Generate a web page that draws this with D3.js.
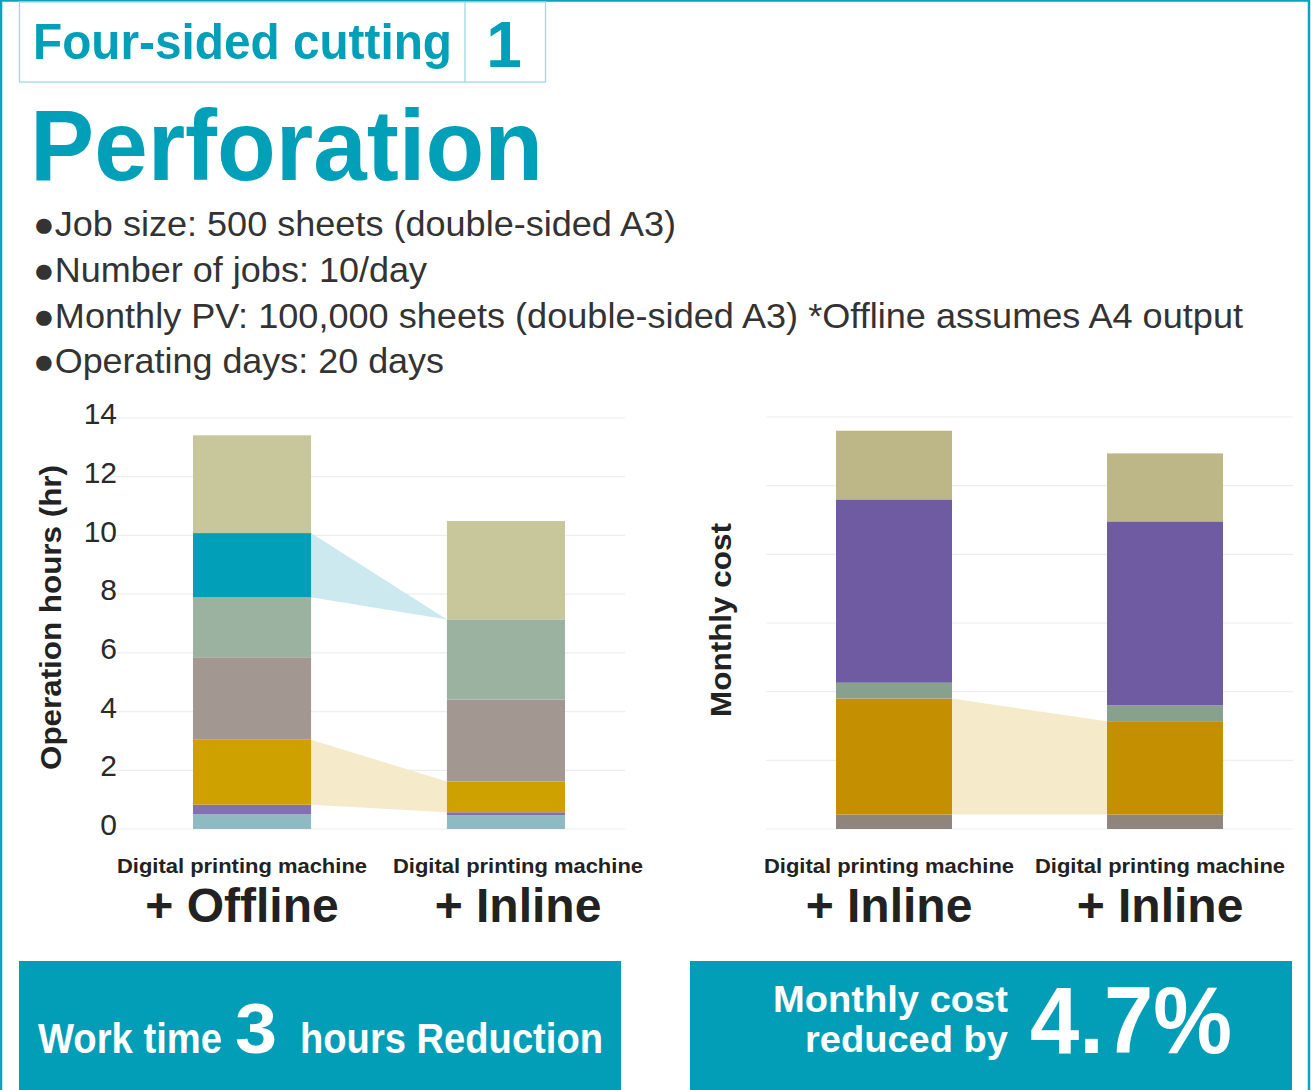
<!DOCTYPE html>
<html>
<head>
<meta charset="utf-8">
<script src="https://cdn.jsdelivr.net/npm/d3@7"></script>
<style>
  html, body { margin: 0; padding: 0; background: #fff; }
  svg { display: block; }
  text { font-family: "Liberation Sans", Arial, sans-serif; }
</style>
</head>
<body>
<svg id="chart" width="1311" height="1090"></svg>
<script>
// ---------------- DATA ----------------
const headerLabel = "Four-sided cutting";
const headerNumber = "1";
const title = "Perforation";
const bullets = [
  "●Job size: 500 sheets (double-sided A3)",
  "●Number of jobs: 10/day",
  "●Monthly PV: 100,000 sheets (double-sided A3) *Offline assumes A4 output",
  "●Operating days: 20 days"
];

// Left chart: operation hours (stack order bottom -> top)
const hourCategories = ["Offline", "Inline"];
const hourCategoryLabels = ["+ Offline", "+ Inline"];
const hourSegments = ["segA", "segB", "segC", "segD", "segE", "segF", "segG"];
const hourColors = ["#8fbac2", "#8370b0", "#cfa100", "#a29791", "#9bb2a1", "#019fb8", "#c8c69b"];
const hoursOffline = [0.50, 0.33, 2.21, 2.81, 2.04, 2.19, 3.33];
const hoursInline  = [0.47, 0.10, 1.05, 2.79, 2.73, 0.00, 3.35];
const hourTicks = [0, 2, 4, 6, 8, 10, 12, 14];
const hourBands = [ { seg: "segF", color: "#cbe9ef" }, { seg: "segC", color: "#f5ebcb" } ];

// Right chart: monthly cost (stack order bottom -> top), no tick labels
const costCategories = ["A", "B"];
const costCategoryLabels = ["+ Inline", "+ Inline"];
const costSegments = ["segP", "segQ", "segR", "segS", "segT"];
const costColors = ["#8f857c", "#c48f00", "#88a18f", "#6e5ba1", "#bdb788"];
const costA = [0.21, 1.69, 0.23, 2.67, 1.00];
const costB = [0.21, 1.36, 0.23, 2.68, 0.99];
const costTicks = [0, 1, 2, 3, 4, 5, 6];
const costBands = [ { seg: "segQ", color: "#f5ebcb" } ];

const machineLabel = "Digital printing machine";
const yTitleLeft = "Operation hours (hr)";
const yTitleRight = "Monthly cost";

// ---------------- DRAW ----------------
const svg = d3.select("#chart");
const TEAL = "#019fb8";

// outer border
svg.append("rect").attr("x", 1).attr("y", 0.5).attr("width", 1308).attr("height", 1095)
  .attr("fill", "none").attr("stroke", "#08a4bc").attr("stroke-width", 2.5);

// header box
svg.append("rect").attr("x", 19.5).attr("y", 2).attr("width", 526).attr("height", 80)
  .attr("fill", "none").attr("stroke", "#9bd9e5").attr("stroke-width", 1.3);
svg.append("line").attr("x1", 465).attr("x2", 465).attr("y1", 2).attr("y2", 82)
  .attr("stroke", "#9bd9e5").attr("stroke-width", 1.3);
svg.append("text").attr("x", 33).attr("y", 59).attr("fill", TEAL)
  .attr("font-size", 50).attr("font-weight", "bold")
  .attr("textLength", 419).attr("lengthAdjust", "spacingAndGlyphs").text(headerLabel);
svg.append("text").attr("x", 504).attr("y", 67).attr("text-anchor", "middle").attr("fill", TEAL)
  .attr("font-size", 64).attr("font-weight", "bold").text(headerNumber);

// title
svg.append("text").attr("x", 30).attr("y", 180).attr("fill", TEAL)
  .attr("font-size", 100).attr("font-weight", "bold")
  .attr("textLength", 513).attr("lengthAdjust", "spacingAndGlyphs").text(title);

// bullets
const bulletWidths = [643, 394, 1210, 411];
const bulletBase = [236, 282, 328, 373];
bullets.forEach((b, i) => {
  svg.append("text").attr("x", 33).attr("y", bulletBase[i]).attr("fill", "#333")
    .attr("font-size", 35)
    .attr("textLength", bulletWidths[i]).attr("lengthAdjust", "spacingAndGlyphs").text(b);
});

function drawChart(opt) {
  const g = svg.append("g");
  const y = d3.scaleLinear().domain(opt.domain).range([829, opt.top]);
  const x = d3.scaleBand().domain(opt.cats).range(opt.xRange).paddingInner(opt.pi).paddingOuter(0.3);
  const lx = d3.scalePoint().domain(opt.cats).range(opt.labelRange);

  // gridlines
  g.append("g").selectAll("line").data(opt.ticks).join("line")
    .attr("x1", opt.gridX[0]).attr("x2", opt.gridX[1])
    .attr("y1", d => y(d)).attr("y2", d => y(d))
    .attr("stroke", "#eeeeee").attr("stroke-width", 1.2);

  // stack
  const rows = opt.cats.map((c, ci) => {
    const r = { cat: c };
    opt.segs.forEach((s, si) => r[s] = opt.values[ci][si]);
    return r;
  });
  const stacked = d3.stack().keys(opt.segs)(rows);

  // connector bands
  opt.bands.forEach(b => {
    const layer = stacked.find(l => l.key === b.seg);
    const x1 = x(opt.cats[0]) + x.bandwidth();
    const x2 = x(opt.cats[1]);
    const pts = [
      [x1, y(layer[0][1])], [x2, y(layer[1][1])],
      [x2, y(layer[1][0])], [x1, y(layer[0][0])]
    ];
    g.append("path").attr("d", d3.line()(pts) + "Z").attr("fill", b.color);
  });

  // bars
  stacked.forEach((layer, li) => {
    g.append("g").selectAll("rect").data(layer).join("rect")
      .attr("x", d => x(d.data.cat))
      .attr("width", x.bandwidth())
      .attr("y", d => y(d[1]))
      .attr("height", d => y(d[0]) - y(d[1]))
      .attr("fill", opt.colors[li]);
  });

  // y tick labels
  if (opt.showTickLabels) {
    const axis = d3.axisLeft(y).tickValues(opt.ticks).tickSize(0).tickPadding(0);
    const ag = g.append("g").attr("transform", "translate(117,-4)").call(axis);
    ag.select(".domain").remove();
    ag.selectAll("text").attr("font-family", "'Lato Light', 'Open Sans Light', Lato, 'Open Sans', sans-serif")
      .attr("font-weight", 300).attr("font-size", 30).attr("fill", "#2a2a2a");
  }

  // y title
  const ty = (opt.titleY[0] + opt.titleY[1]) / 2;
  g.append("text").attr("transform", `translate(${opt.titleX},${ty}) rotate(-90)`)
    .attr("text-anchor", "middle").attr("font-weight", "bold").attr("font-size", 30)
    .attr("fill", "#222").attr("textLength", opt.titleY[1] - opt.titleY[0])
    .attr("lengthAdjust", "spacingAndGlyphs").text(opt.yTitle);

  // category labels
  opt.cats.forEach((c, i) => {
    g.append("text").attr("x", lx(c)).attr("y", 873).attr("text-anchor", "middle")
      .attr("font-weight", "bold").attr("font-size", 21).attr("fill", "#222")
      .attr("textLength", 250).attr("lengthAdjust", "spacingAndGlyphs").text(machineLabel);
    g.append("text").attr("x", lx(c)).attr("y", 922).attr("text-anchor", "middle")
      .attr("font-weight", "bold").attr("font-size", 48).attr("fill", "#222")
      .text(opt.catLabels[i]);
  });
}

drawChart({
  cats: hourCategories, catLabels: hourCategoryLabels, segs: hourSegments, colors: hourColors,
  values: [hoursOffline, hoursInline], domain: [0, 14], top: 418, ticks: hourTicks,
  xRange: [116.8, 641.2], pi: 0.535, labelRange: [242, 518], gridX: [108, 625],
  bands: hourBands, showTickLabels: true, yTitle: yTitleLeft, titleX: 61, titleY: [465, 770]
});

drawChart({
  cats: costCategories, catLabels: costCategoryLabels, segs: costSegments, colors: costColors,
  values: [costA, costB], domain: [0, 6], top: 417, ticks: costTicks,
  xRange: [754.7, 1304.3], pi: 0.572, labelRange: [889, 1160], gridX: [766, 1293],
  bands: costBands, showTickLabels: false, yTitle: yTitleRight, titleX: 731, titleY: [523, 717]
});

// bottom banners
svg.append("rect").attr("x", 19).attr("y", 961).attr("width", 602).attr("height", 135)
  .attr("fill", "#029eb7");
svg.append("rect").attr("x", 690).attr("y", 961).attr("width", 602).attr("height", 135)
  .attr("fill", "#029eb7");

const wt = svg.append("g").attr("fill", "#fff").attr("font-weight", "bold");
wt.append("text").attr("x", 38).attr("y", 1053).attr("font-size", 42)
  .attr("textLength", 184).attr("lengthAdjust", "spacingAndGlyphs").text("Work time");
wt.append("text").attr("x", 235).attr("y", 1053).attr("font-size", 70)
  .attr("textLength", 42).attr("lengthAdjust", "spacingAndGlyphs").text("3");
wt.append("text").attr("x", 300).attr("y", 1053).attr("font-size", 42)
  .attr("textLength", 303).attr("lengthAdjust", "spacingAndGlyphs").text("hours Reduction");
wt.append("text").attr("x", 773).attr("y", 1012).attr("font-size", 36)
  .attr("textLength", 235).attr("lengthAdjust", "spacingAndGlyphs").text("Monthly cost");
wt.append("text").attr("x", 805).attr("y", 1052).attr("font-size", 36)
  .attr("textLength", 203).attr("lengthAdjust", "spacingAndGlyphs").text("reduced by");
wt.append("text").attr("x", 1030).attr("y", 1053).attr("font-size", 95)
  .attr("textLength", 202).attr("lengthAdjust", "spacingAndGlyphs").text("4.7%");
</script>
</body>
</html>
